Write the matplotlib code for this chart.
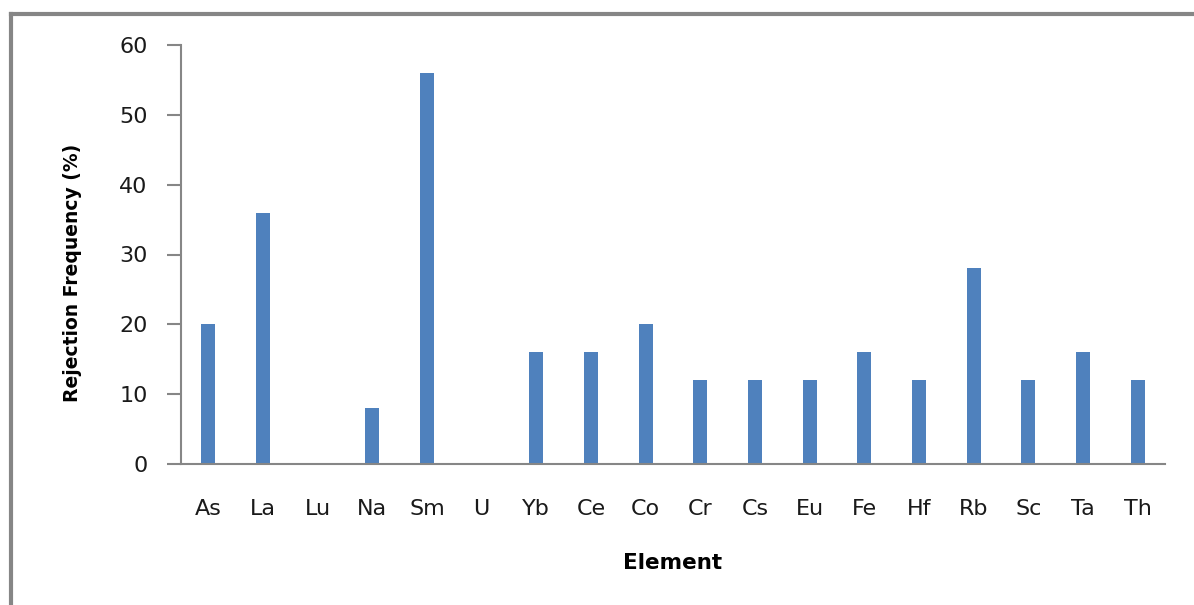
import matplotlib.pyplot as plt
from matplotlib.lines import Line2D

elements = ["As", "La", "Lu", "Na", "Sm", "U", "Yb", "Ce", "Co", "Cr",
            "Cs", "Eu", "Fe", "Hf", "Rb", "Sc", "Ta", "Th"]
rejection = [20, 36, 0, 8, 56, 0, 16, 16, 20, 12, 12, 12, 16, 12, 28, 12, 16, 12]
yticks = [0, 10, 20, 30, 40, 50, 60]

gray = "#868686"

fig = plt.figure(figsize=(11.94, 6.05), dpi=100)
ax = fig.add_axes([181 / 1194, 1 - 464 / 605, (1165 - 181) / 1194, (464 - 45) / 605])

x = list(range(len(elements)))
ax.bar(x, rejection, width=0.26, color="#4F81BD")

ax.set_xlim(-0.5, len(elements) - 0.5)
ax.set_ylim(0, 60)
ax.set_yticks(yticks)
ax.set_xticks(x)
ax.set_xticklabels(elements)

for side in ["top", "right"]:
    ax.spines[side].set_visible(False)
for side in ["left", "bottom"]:
    ax.spines[side].set_color(gray)
    ax.spines[side].set_linewidth(1.5)

ax.tick_params(axis="y", length=10, width=1.5, color=gray, labelsize=16, pad=14)
ax.tick_params(axis="x", length=0, labelsize=16, pad=25)
for lab in ax.get_yticklabels() + ax.get_xticklabels():
    lab.set_color("#1a1a1a")

ax.set_xlabel("Element", fontsize=15.5, fontweight="bold", labelpad=25)
ax.set_ylabel("Rejection Frequency (%)", fontsize=13.5, fontweight="bold")
ax.yaxis.set_label_coords(-0.101, 0.455)

# outer chart border (top and left visible)
fig.add_artist(Line2D([11 / 1194, 1], [1 - 14 / 605, 1 - 14 / 605], color=gray, lw=3,
                      transform=fig.transFigure))
fig.add_artist(Line2D([11 / 1194, 11 / 1194], [0, 1 - 14 / 605], color=gray, lw=3,
                      transform=fig.transFigure))

fig.savefig("out.png", dpi=100)
